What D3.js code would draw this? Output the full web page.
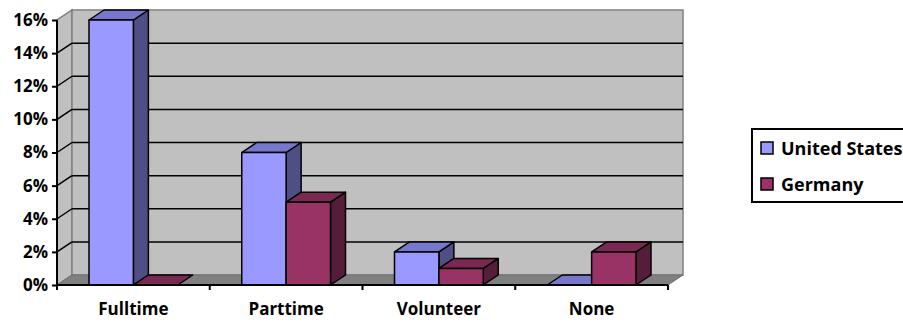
<!DOCTYPE html>
<html>
<head>
<meta charset="utf-8">
<script src="https://cdn.jsdelivr.net/npm/d3@7"></script>
<style>
    body { margin: 0; background: #fff; }
    svg text { font-family: "Open Sans", Lato, sans-serif; font-weight: bold; fill: #000; }
</style>
</head>
<body>
<svg width="903" height="322"></svg>
<script>
// chart data
var categories = ["Fulltime", "Parttime", "Volunteer", "None"];
var seriesNames = ["United States", "Germany"];
var usValues = [16, 8, 2, 0];
var germanyValues = [0, 5, 1, 2];
var yTicks = [0, 2, 4, 6, 8, 10, 12, 14, 16];

var colors = {
    "United States": { front: "#9999ff", top: "#7777cc", side: "#4f4f85" },
    "Germany": { front: "#993366", top: "#7a2952", side: "#561d3a" }
};

var svg = d3.select("svg");
var plotLeft = 57, plotRight = 668, plotBottom = 285, plotTop = 20;
var DX = 15, DY = 10; // depth of the 3d box

var x = d3.scaleBand().domain(categories).range([plotLeft, plotRight]);
var x1 = d3.scaleBand().domain(seriesNames).range([32, x.bandwidth() - 32]);
var y = d3.scaleLinear().domain([0, 16]).range([plotBottom, plotTop]);

function pts(a) {
    return a.map(function(p) { return p[0] + "," + p[1]; }).join(" ");
}

// walls and floor
var g = svg.append("g");
g.append("polygon") // side wall
    .attr("points", pts([[plotLeft, y(0)], [plotLeft, y(16)], [plotLeft + DX, y(16) - DY], [plotLeft + DX, y(0) - DY]]))
    .attr("fill", "#c0c0c0").attr("stroke", "#808080").attr("stroke-width", 1.5);
g.append("rect") // back wall
    .attr("x", plotLeft + DX).attr("y", y(16) - DY)
    .attr("width", plotRight - plotLeft).attr("height", y(0) - y(16))
    .attr("fill", "#c0c0c0").attr("stroke", "#808080").attr("stroke-width", 1.5);
g.append("polygon") // floor
    .attr("points", pts([[plotLeft, y(0)], [plotLeft + DX, y(0) - DY], [plotRight + DX, y(0) - DY], [plotRight, y(0)]]))
    .attr("fill", "#808080").attr("stroke", "#707070").attr("stroke-width", 1);

// gridlines
yTicks.filter(function(t) { return t > 0 && t < 16; }).forEach(function(t) {
    g.append("line")
        .attr("x1", plotLeft + DX).attr("x2", plotRight + DX)
        .attr("y1", y(t) - DY).attr("y2", y(t) - DY)
        .attr("stroke", "#000").attr("stroke-width", 1.5);
    g.append("line")
        .attr("x1", plotLeft).attr("x2", plotLeft + DX)
        .attr("y1", y(t)).attr("y2", y(t) - DY)
        .attr("stroke", "#000").attr("stroke-width", 1.5);
});

// bars
var bars = [];
categories.forEach(function(c, i) {
    bars.push({ cat: c, series: "United States", value: usValues[i] });
    bars.push({ cat: c, series: "Germany", value: germanyValues[i] });
});

var bg = svg.append("g")
    .attr("stroke", "#000").attr("stroke-width", 1.5).attr("stroke-linejoin", "round");
bars.forEach(function(d) {
    var x0 = x(d.cat) + x1(d.series);
    var x2 = x0 + x1.bandwidth();
    var y0 = y(0), yv = y(d.value);
    var col = colors[d.series];
    if (d.value > 0) {
        bg.append("polygon")
            .attr("points", pts([[x2, y0], [x2, yv], [x2 + DX, yv - DY], [x2 + DX, y0 - DY]]))
            .attr("fill", col.side);
    }
    bg.append("polygon")
        .attr("points", pts([[x0, yv], [x0 + DX, yv - DY], [x2 + DX, yv - DY], [x2, yv]]))
        .attr("fill", col.top);
    if (d.value > 0) {
        bg.append("rect")
            .attr("x", x0).attr("y", yv)
            .attr("width", x2 - x0).attr("height", y0 - yv)
            .attr("fill", col.front);
    }
});

// axes
var yAxis = svg.append("g")
    .attr("transform", "translate(" + plotLeft + ",0)")
    .call(d3.axisLeft(y).tickValues(yTicks).tickSize(5).tickPadding(4)
        .tickFormat(function(d) { return d + "%"; }));
yAxis.selectAll("path, line").attr("stroke", "#000").attr("stroke-width", 2);
yAxis.select(".domain").attr("d", "M0," + y(16) + "V" + y(0));
yAxis.selectAll("text").style("font-size", "17px").attr("fill", "#000");

var xAxis = svg.append("g")
    .attr("transform", "translate(0," + plotBottom + ")")
    .call(d3.axisBottom(x).tickSize(0).tickPadding(18));
xAxis.select(".domain").attr("d", "M" + plotLeft + ",0H" + plotRight).attr("stroke", "#000").attr("stroke-width", 2);
xAxis.selectAll("text").style("font-size", "17px").attr("fill", "#000");
// category boundary ticks
xAxis.selectAll(".sep")
    .data(categories.concat(["end"]))
    .enter().append("line")
    .attr("x1", function(d, i) { return plotLeft + i * x.bandwidth(); })
    .attr("x2", function(d, i) { return plotLeft + i * x.bandwidth(); })
    .attr("y1", 0).attr("y2", 5)
    .attr("stroke", "#000").attr("stroke-width", 2);

// legend
var lg = svg.append("g").attr("transform", "translate(752,129)");
lg.append("rect")
    .attr("width", 170).attr("height", 73)
    .attr("fill", "#fff").attr("stroke", "#000").attr("stroke-width", 2);
seriesNames.forEach(function(s, i) {
    lg.append("rect")
        .attr("x", 9).attr("y", 13 + i * 36)
        .attr("width", 12).attr("height", 12)
        .attr("fill", colors[s].front).attr("stroke", "#000").attr("stroke-width", 1.5);
    lg.append("text")
        .attr("x", 29).attr("y", 26 + i * 36)
        .style("font-size", "18px")
        .text(s);
});
</script>
</body>
</html>
